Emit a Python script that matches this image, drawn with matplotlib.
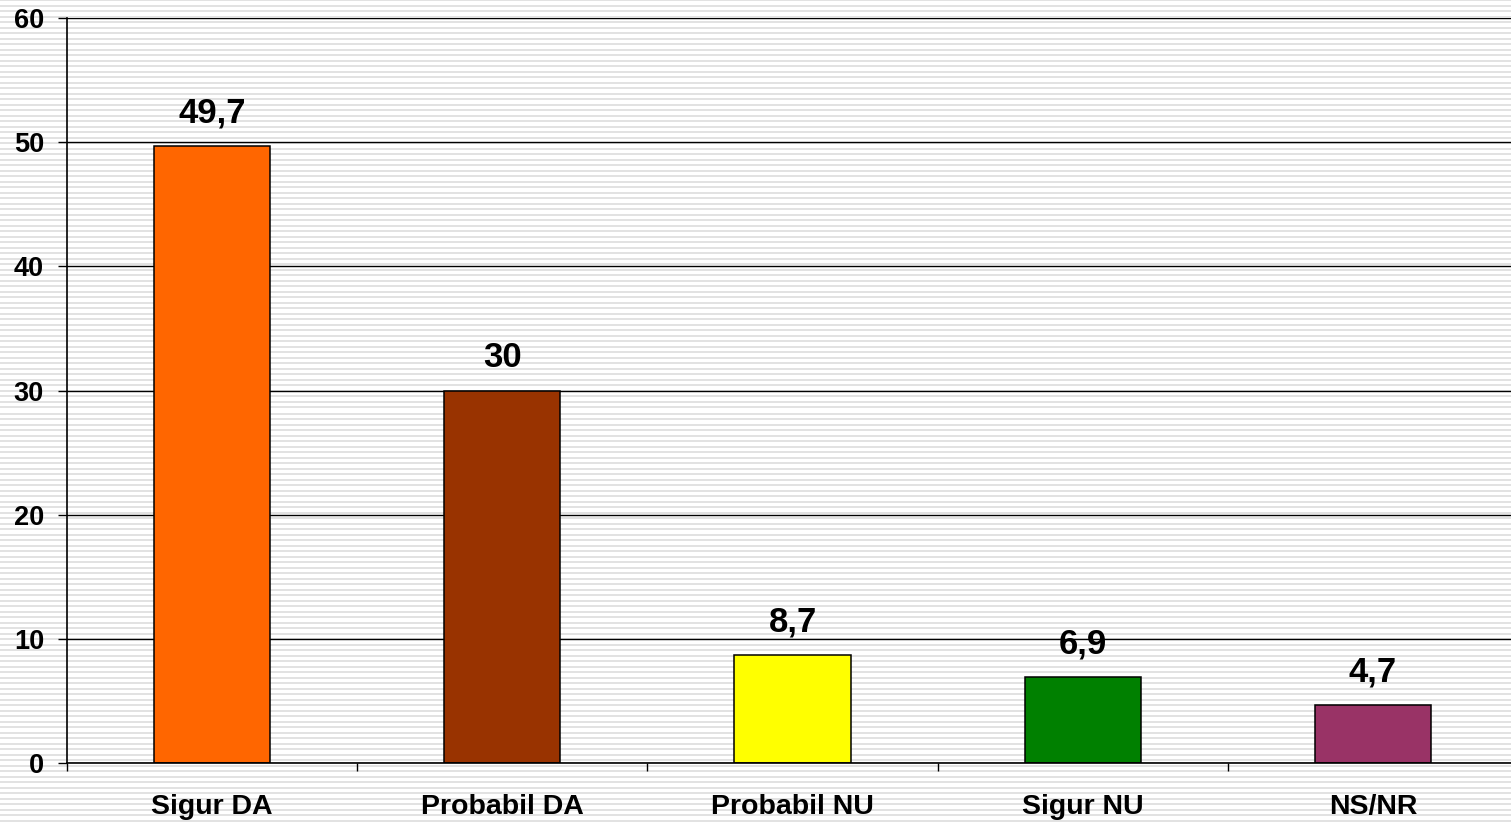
import numpy as np
import matplotlib
matplotlib.use("Agg")
import matplotlib.pyplot as plt

plt.rcParams['font.family'] = ['Liberation Sans', 'DejaVu Sans']
plt.rcParams['font.weight'] = 'bold'

categories = ["Sigur DA", "Probabil DA", "Probabil NU", "Sigur NU", "NS/NR"]
values = [49.7, 30, 8.7, 6.9, 4.7]
value_labels = ["49,7", "30", "8,7", "6,9", "4,7"]
colors = ["#FF6600", "#993300", "#FFFF00", "#008000", "#993366"]

W, H = 1511, 822
fig = plt.figure(figsize=(W / 100, H / 100), dpi=100)

# striped background (light horizontal lines over the whole picture)
bg = fig.add_axes([0, 0, 1, 1])
rows = np.arange(H)
stripe = np.where((rows % 5.5) < 2, 0.89, 1.0)
bg.imshow(np.repeat(stripe[:, None], 3, axis=1)[:, :, None].repeat(3, axis=2),
          aspect='auto', interpolation='nearest', extent=[0, 1, 0, 1])
bg.set_axis_off()

ax = fig.add_axes([67 / W, 59 / H, 1451 / W, 745 / H])
ax.set_facecolor('none')

x = np.arange(len(categories))
ax.bar(x, values, width=0.40, color=colors, edgecolor='black', linewidth=1.1, zorder=3)

for xi, v, lab in zip(x, values, value_labels):
    ax.annotate(lab, (xi, v), xytext=(0, 17), textcoords='offset points',
                ha='center', va='baseline', fontsize=25, fontweight='bold')

ax.set_xlim(-0.5, 4.5)
ax.set_ylim(0, 60)
ax.set_yticks(range(0, 61, 10))
ax.yaxis.grid(True, color='black', linewidth=1.0, zorder=1)
ax.set_axisbelow(True)

ax.set_xticks(x)
ax.set_xticklabels(categories)
ax.set_xticks(np.arange(-0.5, 5.0, 1.0), minor=True)
ax.tick_params(axis='x', which='major', length=0, pad=22, labelsize=20.5)
ax.tick_params(axis='x', which='minor', length=6, width=1.0, direction='out')
ax.tick_params(axis='y', length=6.5, width=1.0, direction='out', pad=10, labelsize=19.5)

for s in ['top', 'right']:
    ax.spines[s].set_visible(False)
for s in ['left', 'bottom']:
    ax.spines[s].set_linewidth(1.2)
    ax.spines[s].set_zorder(4)

fig.savefig("out.png", dpi=100)
